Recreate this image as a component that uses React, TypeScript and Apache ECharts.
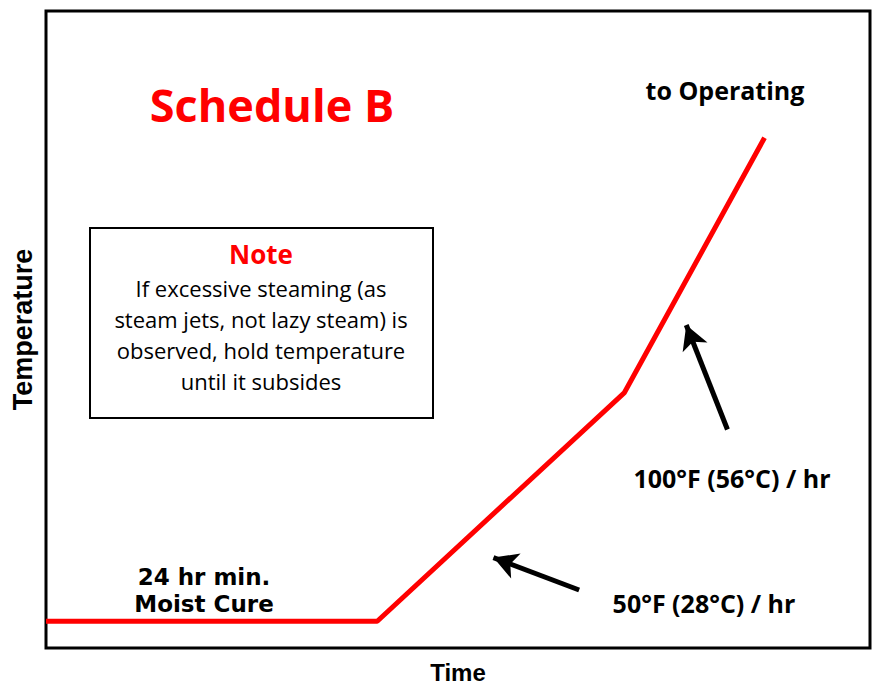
import React, { useEffect, useRef } from "react";
import * as echarts from "echarts";

// Temperature schedule (arbitrary units: time 0-100, temperature 0-100)
const timePoints = [0, 40.2, 70.2, 87.2];
const tempPoints = [4.2, 4.2, 40.1, 80.1];

// Arrow annotations [tailTime, tailTemp, tipTime, tipTemp]
const arrow50 = [64.7, 9.1, 54.3, 14.2];
const arrow100 = [82.7, 34.3, 77.7, 50.7];

const titleText = "Schedule B";
const noteTitle = "Note";
const noteLines = [
  "If excessive steaming (as",
  "steam jets, not lazy steam) is",
  "observed, hold temperature",
  "until it subsides",
];
const cureLines = ["24 hr min.", "Moist Cure"];
const rate50Label = "50°F (28°C) / hr";
const rate100Label = "100°F (56°C) / hr";
const operatingLabel = "to Operating";

const GILL = "'Open Sans', Lato, 'Noto Sans', sans-serif";
const WIDE = "'DejaVu Sans', 'Open Sans', sans-serif";

export default function App() {
  const ref = useRef<HTMLDivElement>(null);
  useEffect(() => {
    if (!ref.current) return;
    const chart = echarts.init(ref.current, undefined, { renderer: "svg" });
    const lineData = timePoints.map((t, i) => [t, tempPoints[i]]);
    const arrowData = [arrow50, arrow100].map((a) => [
      { coord: [a[0], a[1]] },
      { coord: [a[2], a[3]] },
    ]);
    chart.setOption({
      animation: false,
      backgroundColor: "#fff",
      grid: {
        left: 46,
        right: 3,
        top: 11,
        bottom: 36,
        outerBoundsMode: "none",
        containLabel: false,
        show: true,
        borderColor: "#000",
        borderWidth: 3,
        backgroundColor: "transparent",
      },
      xAxis: {
        type: "value",
        min: 0,
        max: 100,
        name: "Time",
        nameLocation: "middle",
        nameGap: 12,
        nameTextStyle: {
          fontFamily: "'Liberation Sans', Arial, sans-serif",
          fontWeight: "bold",
          fontSize: 24,
          lineHeight: 24,
          color: "#000",
          verticalAlign: "top",
        },
        axisLine: { show: false },
        axisTick: { show: false },
        axisLabel: { show: false },
        splitLine: { show: false },
      },
      yAxis: {
        type: "value",
        min: 0,
        max: 100,
        name: "Temperature",
        nameLocation: "middle",
        nameGap: 10,
        nameTextStyle: {
          fontFamily: "'Liberation Sans', Arial, sans-serif",
          fontWeight: "bold",
          fontSize: 27,
          color: "#000",
        },
        axisLine: { show: false },
        axisTick: { show: false },
        axisLabel: { show: false },
        splitLine: { show: false },
      },
      series: [
        {
          type: "line",
          data: lineData,
          symbol: "none",
          lineStyle: { color: "#ff0000", width: 5 },
          silent: true,
          z: 3,
        },
        {
          type: "line",
          data: [],
          silent: true,
          markLine: {
            silent: true,
            symbol: ["none", "arrow"],
            symbolSize: [20, 24],
            label: { show: false },
            lineStyle: { color: "#000", width: 5, type: "solid" },
            emphasis: { disabled: true },
            data: arrowData,
          },
        },
      ],
      graphic: [
        {
          type: "text",
          x: 272,
          y: 104,
          style: {
            text: titleText,
            font: `700 45px ${GILL}`,
            fill: "#ff0000",
            align: "center",
            verticalAlign: "middle",
          },
        },
        {
          type: "text",
          x: 725,
          y: 90,
          style: {
            text: operatingLabel,
            font: `700 25px ${GILL}`,
            fill: "#000",
            align: "center",
            verticalAlign: "middle",
          },
        },
        {
          type: "rect",
          shape: { x: 90, y: 228, width: 343, height: 190 },
          style: { fill: "#fff", stroke: "#000", lineWidth: 2 },
        },
        {
          type: "text",
          x: 261,
          y: 254,
          style: {
            text: noteTitle,
            font: `700 26px ${GILL}`,
            fill: "#ff0000",
            align: "center",
            verticalAlign: "middle",
          },
        },
        {
          type: "text",
          x: 261,
          y: 334.5,
          style: {
            text: noteLines.join("\n"),
            font: `400 22px ${GILL}`,
            lineHeight: 31,
            fill: "#000",
            align: "center",
            verticalAlign: "middle",
          },
        },
        ...cureLines.map((l, i) => ({
          type: "text",
          x: 204,
          y: 577 + i * 27,
          style: {
            text: l,
            font: `700 23px ${WIDE}`,
            fill: "#000",
            align: "center",
            verticalAlign: "middle",
          },
        })),
        {
          type: "text",
          x: 704,
          y: 603,
          style: {
            text: rate50Label,
            font: `700 25px ${GILL}`,
            fill: "#000",
            align: "center",
            verticalAlign: "middle",
          },
        },
        {
          type: "text",
          x: 732,
          y: 478,
          style: {
            text: rate100Label,
            font: `700 25px ${GILL}`,
            fill: "#000",
            align: "center",
            verticalAlign: "middle",
          },
        },
      ],
    });
    return () => chart.dispose();
  }, []);
  return (
    <div
      ref={ref}
      style={{ position: "absolute", left: 0, top: 0, width: 873, height: 684 }}
    />
  );
}
